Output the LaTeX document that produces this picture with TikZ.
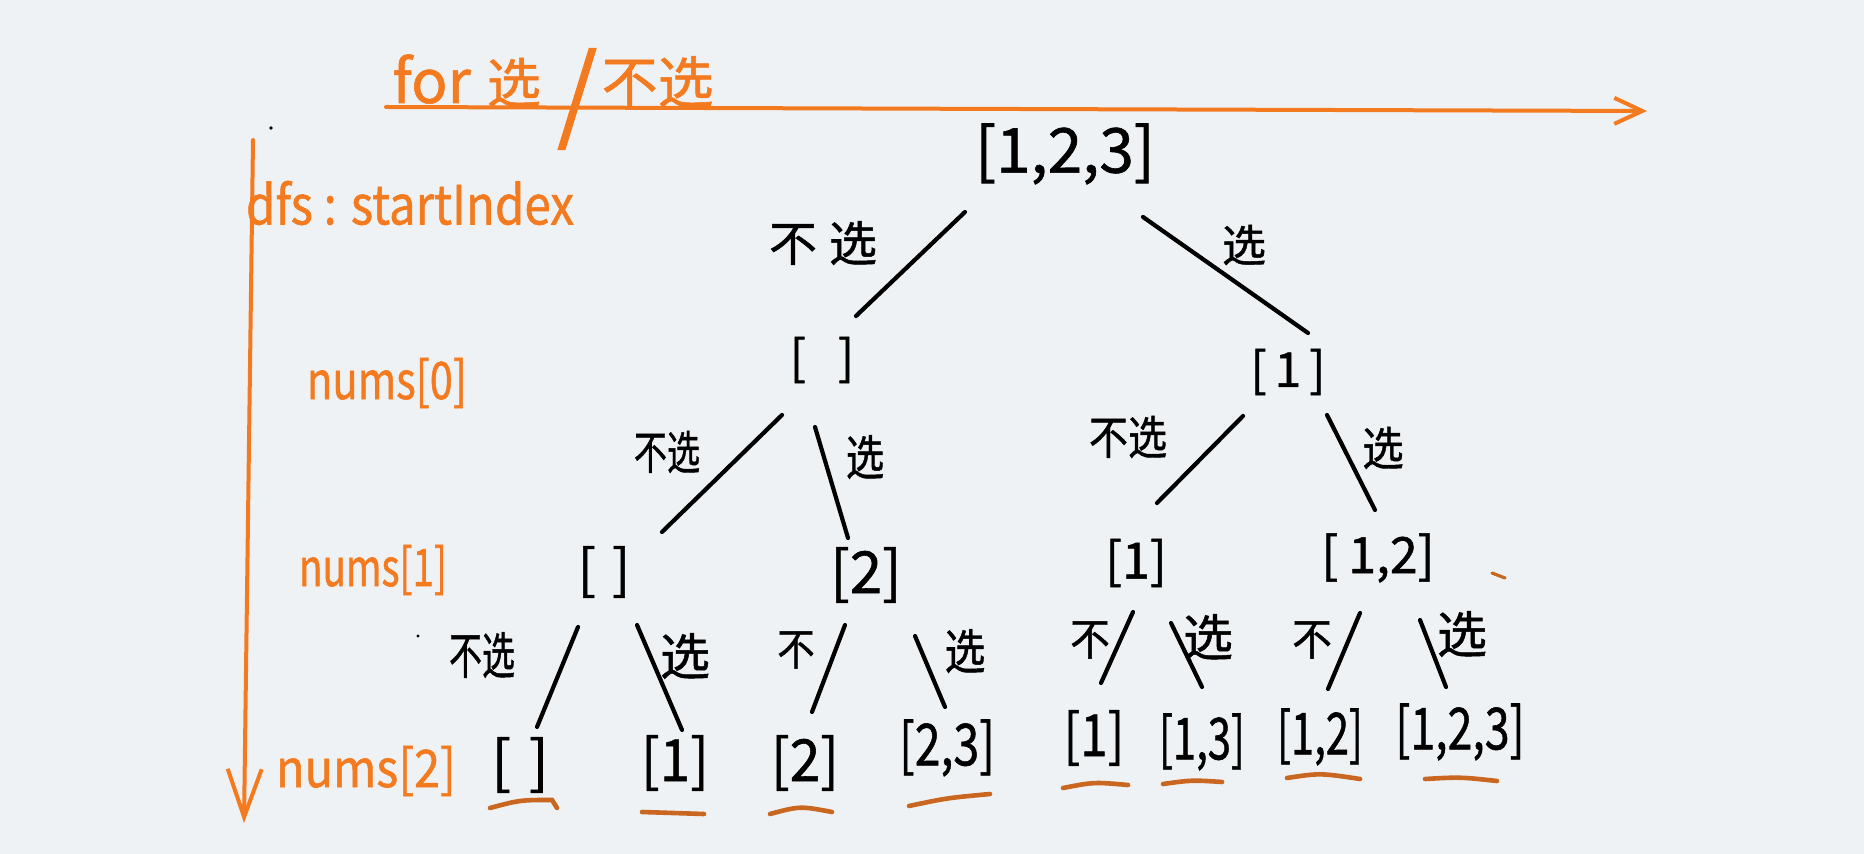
\documentclass[tikz,border=0pt]{standalone}
\usepackage{fontspec}
\usepackage{graphicx}
\setmainfont{Noto Sans CJK SC}[FakeBold=1]
\usetikzlibrary{arrows.meta}
\definecolor{bgc}{HTML}{EFF2F4}
\definecolor{org}{HTML}{F47A1F}
\definecolor{ulc}{HTML}{C9661F}
\newcommand\fsz[1]{\fontsize{#1}{#1}\selectfont}
\newcommand\hsq[2]{\scalebox{#1}[1]{#2}}
\begin{document}
\begin{tikzpicture}[x=0.5pt,y=-0.5pt,
  edge/.style={draw=black, line width=2.1pt, line cap=round},
  axis/.style={draw=org, line width=2pt, line cap=round},
  uline/.style={draw=ulc, line width=2.3pt, line cap=round},
  tn/.style={inner sep=0pt, text=black},
  lab/.style={inner sep=0pt, text=black},
  olab/.style={inner sep=0pt, text=org},
]
\fill[bgc] (0,0) rectangle (1864,854);
\useasboundingbox (0,0) rectangle (1864,854);

% axes
\coordinate (hx0) at (386,107);
\coordinate (hx1) at (1647,111);
\draw[axis, -{Straight Barb[length=14pt,width=13pt,line width=2pt]}] (hx0) -- (hx1);
\coordinate (vy0) at (253,140);
\coordinate (vy1) at (244,823);
\draw[axis, -{Straight Barb[length=24pt,width=17pt,line width=2pt]}] (vy0) -- (vy1);

% orange texts
\node[olab, anchor=base west] (hdr) at (392,103) {\fsz{30pt}for\hspace{8pt}\fsz{27pt}选\hspace{8pt}\raisebox{-14pt}{\fsz{52pt}/}\hspace{2pt}\fsz{28pt}不选};
\node[olab] (dfs) at (410,203) {\fsz{27pt}\hsq{0.88}{dfs : startIndex}};
\node[olab] (n0) at (387,383) {\fsz{26pt}\hsq{0.8}{nums[0]}};
\node[olab] (n1) at (373,570) {\fsz{26pt}\hsq{0.74}{nums[1]}};
\node[olab] (n2) at (366,771) {\fsz{26pt}\hsq{0.9}{nums[2]}};

% tree nodes
\node[tn] (root) at (1065,154) {\fsz{31pt}[1,2,3]};
\node[tn] (l0) at (822,360) {\fsz{24pt}[\hspace{16pt}]};
\node[tn] (r0) at (1288,372) {\fsz{24pt}[\,1\,]};
\node[tn] (ll) at (604,572) {\fsz{27pt}[\hspace{8pt}]};
\node[tn] (lr) at (866,575) {\fsz{29pt}[2]};
\node[tn] (rl) at (1136,563) {\fsz{25pt}[1]};
\node[tn] (rr) at (1378,558) {\fsz{25pt}[\hspace{5pt}1,2]};
\node[tn] (a) at (520,765) {\fsz{29pt}[\hspace{9pt}]};
\node[tn] (b) at (675,763) {\fsz{29pt}\hsq{0.95}{[1]}};
\node[tn] (c) at (805,763) {\fsz{29pt}\hsq{0.95}{[2]}};
\node[tn] (d) at (947,748) {\fsz{29pt}\hsq{0.8}{[2,3]}};
\node[tn] (e) at (1094,738) {\fsz{29pt}\hsq{0.85}{[1]}};
\node[tn] (f) at (1202,742) {\fsz{29pt}\hsq{0.72}{[1,3]}};
\node[tn] (g) at (1320,737) {\fsz{29pt}\hsq{0.72}{[1,2]}};
\node[tn] (h) at (1460,732) {\fsz{29pt}\hsq{0.77}{[1,2,3]}};

% edge labels
\node[lab] (t1) at (823,243) {\fsz{24pt}不\hspace{6pt}选};
\node[lab] (t2) at (1244,245) {\fsz{22pt}选};
\node[lab] (t3) at (667,452) {\fsz{23pt}\hsq{0.72}{不选}};
\node[lab] (t4) at (865,457) {\fsz{24pt}\hsq{0.8}{选}};
\node[lab] (t5) at (1128,437) {\fsz{23pt}\hsq{0.85}{不选}};
\node[lab] (t6) at (1383,448) {\fsz{23pt}\hsq{0.9}{选}};
\node[lab] (t7) at (482,655) {\fsz{25pt}\hsq{0.66}{不选}};
\node[lab] (t8) at (685,656) {\fsz{25pt}选};
\node[lab] (t9) at (796,650) {\fsz{22pt}\hsq{0.85}{不}};
\node[lab] (t10) at (965,651) {\fsz{24pt}\hsq{0.85}{选}};
\node[lab] (t11) at (1090,640) {\fsz{22pt}\hsq{0.9}{不}};
\node[lab] (t12) at (1208,637) {\fsz{25pt}选};
\node[lab] (t13) at (1312,640) {\fsz{22pt}\hsq{0.9}{不}};
\node[lab] (t14) at (1462,634) {\fsz{25pt}选};

% edges
\draw[edge] ([shift={(-100,58)}]root.center) -- ([shift={(34,-44)}]l0.center);
\draw[edge] ([shift={(78,63)}]root.center) -- ([shift={(20,-39)}]r0.center);
\draw[edge] ([shift={(-40,55)}]l0.center) -- ([shift={(58,-40)}]ll.center);
\draw[edge] ([shift={(-7,67)}]l0.center) -- ([shift={(-18,-37)}]lr.center);
\draw[edge] ([shift={(-45,44)}]r0.center) -- ([shift={(21,-60)}]rl.center);
\draw[edge] ([shift={(39,43)}]r0.center) -- ([shift={(-3,-48)}]rr.center);
\draw[edge] ([shift={(-26,55)}]ll.center) -- ([shift={(17,-38)}]a.center);
\draw[edge] ([shift={(33,53)}]ll.center) -- ([shift={(7,-33)}]b.center);
\draw[edge] ([shift={(-21,50)}]lr.center) -- ([shift={(7,-51)}]c.center);
\draw[edge] ([shift={(49,61)}]lr.center) -- ([shift={(-2,-41)}]d.center);
\draw[edge] ([shift={(-3,49)}]rl.center) -- ([shift={(7,-55)}]e.center);
\draw[edge] ([shift={(35,60)}]rl.center) -- ([shift={(0,-55)}]f.center);
\draw[edge] ([shift={(-18,55)}]rr.center) -- ([shift={(8,-48)}]g.center);
\draw[edge] ([shift={(42,62)}]rr.center) -- ([shift={(-14,-45)}]h.center);

% underlines of the leaves
\draw[uline] ([shift={(-30,43)}]a.center) .. controls ([shift={(0,35)}]a.center) .. ([shift={(32,35)}]a.center) -- ([shift={(37,43)}]a.center);
\draw[uline] ([shift={(-33,49)}]b.center) -- ([shift={(29,51)}]b.center);
\draw[uline] ([shift={(-35,51)}]c.center) .. controls ([shift={(-5,43)}]c.center) .. ([shift={(27,49)}]c.center);
\draw[uline] ([shift={(-38,58)}]d.center) .. controls ([shift={(0,50)}]d.center) .. ([shift={(43,46)}]d.center);
\draw[uline] ([shift={(-31,50)}]e.center) .. controls ([shift={(0,44)}]e.center) .. ([shift={(34,47)}]e.center);
\draw[uline] ([shift={(-39,42)}]f.center) .. controls ([shift={(-10,38)}]f.center) .. ([shift={(20,40)}]f.center);
\draw[uline] ([shift={(-33,41)}]g.center) .. controls ([shift={(0,36)}]g.center) .. ([shift={(40,42)}]g.center);
\draw[uline] ([shift={(-35,47)}]h.center) .. controls ([shift={(0,45)}]h.center) .. ([shift={(37,49)}]h.center);

% stray marks
\draw[uline, line width=1.6pt] (1492,573) -- (1505,578);
\fill[black] (271,128) circle (1.8);
\fill[black] (418,636) circle (1.6);
\end{tikzpicture}
\end{document}
